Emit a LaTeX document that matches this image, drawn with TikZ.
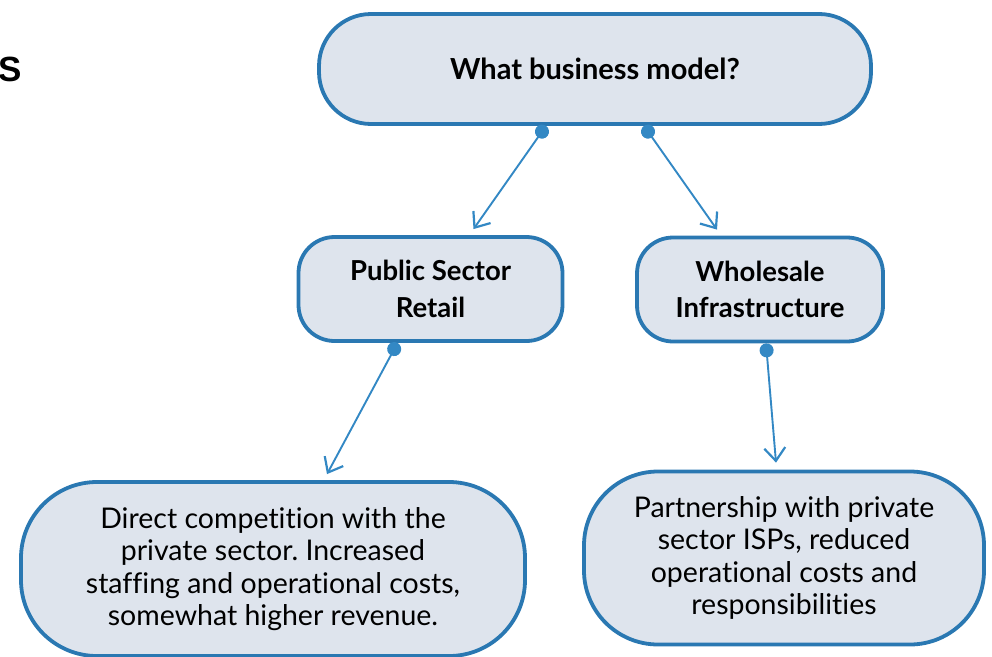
\documentclass[tikz,border=0pt]{standalone}
\usepackage{fontspec}
\setmainfont[Ligatures=NoCommon]{Lato}
\newfontfamily\titlefont{Liberation Sans}
\usetikzlibrary{arrows.meta}
\definecolor{boxblue}{HTML}{2A78B2}
\definecolor{linkblue}{HTML}{3388C4}
\definecolor{boxfill}{HTML}{DEE4ED}
\frenchspacing
\begin{document}
\begin{tikzpicture}[x=1pt,y=-1pt,line cap=round,
		box/.style={draw=boxblue,line width=3.8pt,fill=boxfill,align=center,inner sep=0pt},
		head/.style={font=\bfseries\fontsize{27.5}{36.5}\selectfont},
		body/.style={font=\fontsize{28.5}{32.5}\selectfont},
		link/.style={draw=linkblue,line width=1.9pt,{Circle[length=14pt]}-{Straight Barb[length=13pt,width=21pt,line width=2.2pt]}}]
			\useasboundingbox (0,0) rectangle (992,656);
			\node[anchor=west,inner sep=0pt,font=\titlefont\bfseries\fontsize{35}{40}\selectfont] (s) at (-2,69) {S};
			\node[box,head,font=\bfseries\fontsize{29}{36}\selectfont,minimum width=552pt,minimum height=110pt,rounded corners=52pt] (model) at (595,69) {What business model?};
			\node[box,head,minimum width=264pt,minimum height=104pt,rounded corners=36pt] (pub) at (430.5,289) {Public Sector\\Retail};
			\node[box,head,minimum width=246pt,minimum height=104pt,rounded corners=36pt] (whole) at (760,289.5) {Wholesale\\Infrastructure};
			\node[box,body,minimum width=504pt,minimum height=174pt,rounded corners=76pt] (comp) at (273,569) {Direct competition with the\\private sector. Increased\\staffing and operational costs,\\somewhat higher revenue.};
			\node[box,body,minimum width=400pt,minimum height=173pt,rounded corners=74pt] (part) at (784,558) {Partnership with private\\sector ISPs, reduced\\operational costs and\\responsibilities};
			\draw[link] ([xshift=-49pt]model.south) -- ([xshift=43pt,yshift=6pt]pub.north);
			\draw[link] ([xshift=49pt]model.south) -- ([xshift=-43pt,yshift=6pt]whole.north);
			\draw[link] ([xshift=-33pt]pub.south) -- ([xshift=54pt,yshift=6pt]comp.north);
			\draw[link] ([xshift=6pt]whole.south) -- ([xshift=-8pt,yshift=7pt]part.north);
		\end{tikzpicture}
\end{document}
